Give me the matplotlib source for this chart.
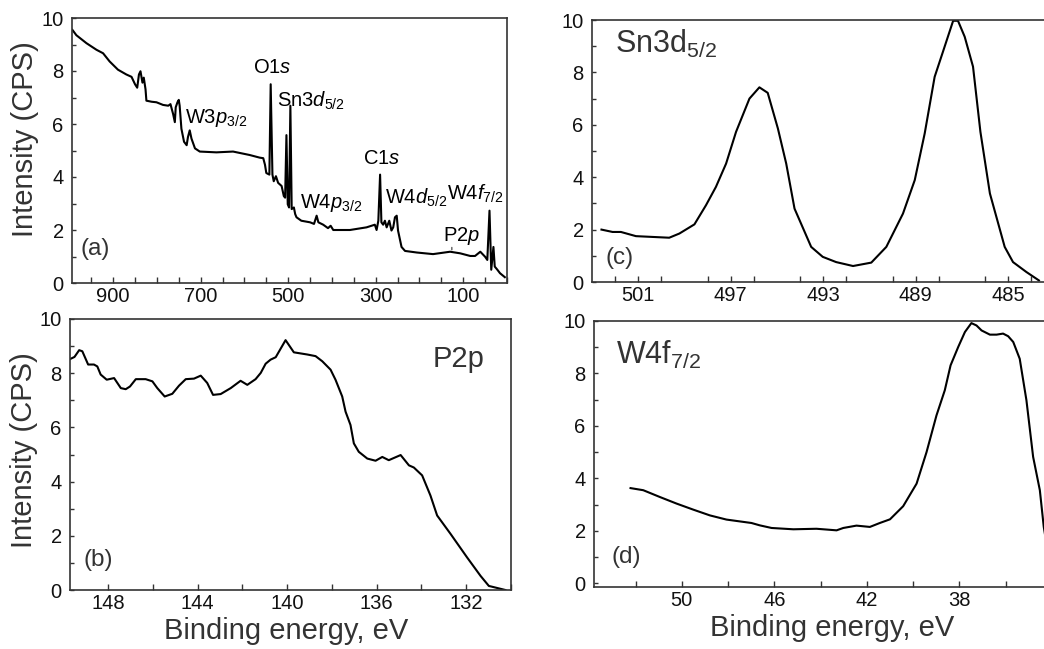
import matplotlib
matplotlib.use('Agg')
import matplotlib.pyplot as plt
from matplotlib.ticker import MultipleLocator

plt.rcParams['font.family'] = ['Liberation Sans', 'DejaVu Sans']
plt.rcParams['mathtext.fontset'] = 'custom'
plt.rcParams['mathtext.rm'] = 'Liberation Sans'
plt.rcParams['mathtext.it'] = 'Liberation Sans:italic'
plt.rcParams['mathtext.bf'] = 'Liberation Sans:bold'

# ---------------- data ----------------
# (a) survey spectrum
survey_be = [993, 984, 961, 938, 923, 908, 889, 870, 858, 850, 845, 841, 837.5, 833, 830, 826, 824,
             812, 801, 786, 774, 769, 763, 759, 757, 753, 750, 748, 744, 738, 732, 729, 725, 721,
             713, 702, 664, 626, 588, 565, 557, 553, 550, 543, 540, 536, 533, 528, 523, 515, 510,
             507, 504, 501, 498, 495, 492, 487, 484, 481, 470, 450, 441, 435, 431, 420, 409, 403,
             397, 359, 321, 302, 298, 294, 290, 287, 283, 279, 275, 269, 264, 260, 256, 252, 249,
             241, 233, 206, 169, 130, 107, 84, 73, 61, 50, 45, 40, 36, 31, 28, 22, 16, 5]
survey_int = [9.55, 9.35, 9.05, 8.8, 8.67, 8.36, 8.05, 7.87, 7.78, 7.5, 7.37, 7.87, 7.99, 7.56, 7.75,
              7.31, 6.88, 6.84, 6.82, 6.72, 6.69, 6.75, 6.38, 6.07, 6.63, 6.82, 6.91, 6.69, 5.82,
              5.33, 5.2, 5.51, 5.76, 5.45, 5.08, 4.96, 4.93, 4.96, 4.83, 4.73, 4.71, 4.46, 4.15,
              4.09, 7.5, 4.09, 3.84, 4.03, 3.78, 3.66, 3.28, 3.22, 5.58, 2.97, 2.85, 6.69, 2.79,
              2.85, 2.6, 2.48, 2.35, 2.29, 2.23, 2.54, 2.29, 2.2, 2.07, 2.16, 2.0, 2.0, 2.1, 2.2,
              2.0, 2.35, 4.09, 2.29, 2.2, 2.35, 2.1, 2.35, 1.98, 2.1, 2.48, 2.54, 1.98, 1.36, 1.21,
              1.15, 1.09, 1.18, 1.12, 1.02, 1.02, 1.18, 0.99, 0.87, 2.73, 0.5, 1.36, 0.62, 0.5,
              0.37, 0.22]

# (b) P2p
p2p_be = [149.7, 149.5, 149.29, 149.15, 148.89, 148.63, 148.48, 148.33, 148.06, 147.73, 147.43,
          147.21, 147.02, 146.76, 146.32, 146.02, 145.8, 145.47, 145.13, 144.83, 144.53, 144.16,
          143.86, 143.57, 143.31, 142.97, 142.52, 142.08, 141.78, 141.41, 141.18, 140.96, 140.74,
          140.51, 140.07, 139.7, 139.1, 138.73, 138.43, 138.06, 137.84, 137.54, 137.39, 137.17,
          137.02, 136.8, 136.42, 136.05, 135.75, 135.46, 134.93, 134.56, 134.34, 133.97, 133.6,
          133.3, 132.7, 131.96, 131.36, 130.99, 130.25]
p2p_int = [8.52, 8.6, 8.85, 8.81, 8.32, 8.32, 8.25, 7.95, 7.76, 7.82, 7.45, 7.41, 7.51, 7.78, 7.78,
           7.7, 7.45, 7.14, 7.24, 7.54, 7.78, 7.8, 7.91, 7.64, 7.2, 7.23, 7.45, 7.72, 7.57, 7.78,
           8.01, 8.35, 8.5, 8.59, 9.22, 8.77, 8.69, 8.63, 8.44, 8.13, 7.76, 7.14, 6.58, 6.09, 5.41,
           5.1, 4.85, 4.77, 4.91, 4.79, 4.98, 4.6, 4.52, 4.23, 3.49, 2.75, 2.07, 1.2, 0.52, 0.15,
           0.0]

# (c) Sn3d
sn_be = [502.59, 502.11, 501.75, 501.1, 500.38, 499.66, 499.22, 498.57, 498.07, 497.64, 497.2,
         496.77, 496.19, 495.76, 495.4, 494.96, 494.6, 494.24, 493.52, 493.02, 492.44, 491.71,
         490.92, 490.27, 489.55, 489.04, 488.61, 488.18, 487.82, 487.38, 487.17, 486.88, 486.52,
         486.2, 485.79, 485.15, 484.79, 484.21, 483.67]
sn_int = [2.0, 1.91, 1.91, 1.75, 1.72, 1.69, 1.85, 2.2, 2.93, 3.63, 4.52, 5.73, 7.0, 7.43, 7.22,
          5.86, 4.52, 2.8, 1.34, 0.96, 0.76, 0.61, 0.74, 1.34, 2.61, 3.89, 5.67, 7.83, 8.79, 9.97,
          9.97, 9.36, 8.22, 5.73, 3.38, 1.34, 0.76, 0.38, 0.06]

# (d) W4f
w_be = [52.22, 51.67, 50.95, 50.23, 49.51, 48.79, 48.07, 47.49, 46.99, 46.63, 46.12, 45.18, 44.18,
        43.74, 43.31, 43.02, 42.45, 41.87, 41.44, 41.0, 40.43, 39.85, 39.42, 38.99, 38.63, 38.38,
        38.05, 37.76, 37.48, 37.26, 37.04, 36.68, 36.39, 36.11, 35.89, 35.67, 35.39, 35.1, 34.81,
        34.52, 34.35, 34.1]
w_int = [3.63, 3.55, 3.29, 3.04, 2.81, 2.59, 2.43, 2.36, 2.3, 2.21, 2.11, 2.06, 2.08, 2.05, 2.02,
         2.11, 2.2, 2.15, 2.3, 2.44, 2.94, 3.8, 5.0, 6.4, 7.36, 8.31, 9.01, 9.58, 9.92, 9.83, 9.64,
         9.48, 9.48, 9.52, 9.42, 9.2, 8.56, 6.98, 4.82, 3.55, 2.15, 0.8]

y_ticks = [0, 2, 4, 6, 8, 10]
survey_xticks = [900, 700, 500, 300, 100]
p2p_xticks = [148, 144, 140, 136, 132]
sn_xticks = [501, 497, 493, 489, 485]
w_xticks = [50, 46, 42, 38]

# survey peak labels: (text, x, y)
survey_labels = [
    ('O1$s$', 581, 7.94),
    ('Sn3$d_{5/2}$', 526, 6.64),
    ('W3$p_{3/2}$', 736, 6.05),
    ('W4$p_{3/2}$', 473, 2.83),
    ('C1$s$', 329, 4.49),
    ('W4$d_{5/2}$', 279, 2.98),
    ('W4$f_{7/2}$', 137, 3.13),
    ('P2$p$', 146, 1.60),
]

# ---------------- figure ----------------
W, H = 1044, 649
fig = plt.figure(figsize=(W / 100, H / 100), dpi=100)


def add_axes(l, t, r, b):
    return fig.add_axes([l / W, 1 - b / H, (r - l) / W, (b - t) / H])


axA = add_axes(72, 18, 507, 283)
axB = add_axes(70, 319, 511, 590)
axC = add_axes(592, 20, 1044, 282)
axD = add_axes(594, 321, 1044, 587)

spine_c = '#333333'
lab_c = '#333333'
lw = 1.5

for ax in (axA, axB, axC, axD):
    for s in ax.spines.values():
        s.set_color(spine_c)
        s.set_linewidth(1.2)
    ax.set_yticks(y_ticks)
    ax.yaxis.set_minor_locator(MultipleLocator(1))
    ax.tick_params(axis='both', which='both', direction='in', colors=spine_c,
                   labelcolor='#111111', labelsize=14.5, width=1)
    ax.tick_params(axis='y', which='both', length=3, pad=6)
    ax.tick_params(axis='x', which='both', length=4, pad=3)
    ax.tick_params(top=False, right=False, which='both')

for ax in (axC, axD):
    ax.spines['right'].set_visible(False)

# (a)
axA.plot(survey_be, survey_int, color='black', lw=lw)
axA.set_xlim(994, 0)
axA.set_ylim(0, 10)
axA.set_xticks(survey_xticks)
axA.xaxis.set_minor_locator(MultipleLocator(50))
for txt, x, y in survey_labels:
    axA.text(x, y, txt, fontsize=14.5, color='black', ha='left', va='baseline')
axA.annotate('', xy=(126, 1.25), xytext=(126, 1.45),
             arrowprops=dict(arrowstyle='-', color='#333333', lw=0.8))
axA.text(0.02, 0.13, '(a)', transform=axA.transAxes, fontsize=17.5, color=lab_c,
         ha='left', va='center')

# (b)
axB.plot(p2p_be, p2p_int, color='black', lw=lw)
axB.set_xlim(149.7, 130)
axB.set_ylim(0, 10)
axB.set_xticks(p2p_xticks)
axB.xaxis.set_minor_locator(MultipleLocator(2))
axB.text(0.822, 0.824, 'P2p', transform=axB.transAxes, fontsize=21, color=lab_c,
         ha='left', va='baseline')
axB.text(0.031, 0.11, '(b)', transform=axB.transAxes, fontsize=17.5, color=lab_c,
         ha='left', va='center')

# (c)
axC.plot(sn_be, sn_int, color='black', lw=lw)
axC.set_xlim(503.0, 483.45)
axC.set_ylim(0, 10)
axC.set_xticks(sn_xticks)
axC.xaxis.set_minor_locator(MultipleLocator(2))
axC.text(0.05, 0.874, 'Sn3d$_{5/2}$', transform=axC.transAxes, fontsize=22, color=lab_c,
         ha='left', va='baseline')
axC.text(0.03, 0.09, '(c)', transform=axC.transAxes, fontsize=17.5, color=lab_c,
         ha='left', va='center')

# (d)
axD.plot(w_be, w_int, color='black', lw=lw)
axD.set_xlim(53.8, 34.34)
axD.set_ylim(-0.14, 10)
axD.set_xticks(w_xticks)
axD.xaxis.set_minor_locator(MultipleLocator(2))
axD.text(0.05, 0.84, 'W4f$_{7/2}$', transform=axD.transAxes, fontsize=22, color=lab_c,
         ha='left', va='baseline')
axD.text(0.039, 0.113, '(d)', transform=axD.transAxes, fontsize=17.5, color=lab_c,
         ha='left', va='center')

# axis titles
fig.text(25 / W, 1 - 139 / H, 'Intensity (CPS)', rotation=90, fontsize=21, color=lab_c,
         ha='center', va='center')
fig.text(24 / W, 1 - 450 / H, 'Intensity (CPS)', rotation=90, fontsize=21, color=lab_c,
         ha='center', va='center')
fig.text(286 / W, 1 - 631 / H, 'Binding energy, eV', fontsize=21, color=lab_c,
         ha='center', va='center')
fig.text(832 / W, 1 - 628 / H, 'Binding energy, eV', fontsize=21, color=lab_c,
         ha='center', va='center')

fig.savefig('out.png', dpi=100)
